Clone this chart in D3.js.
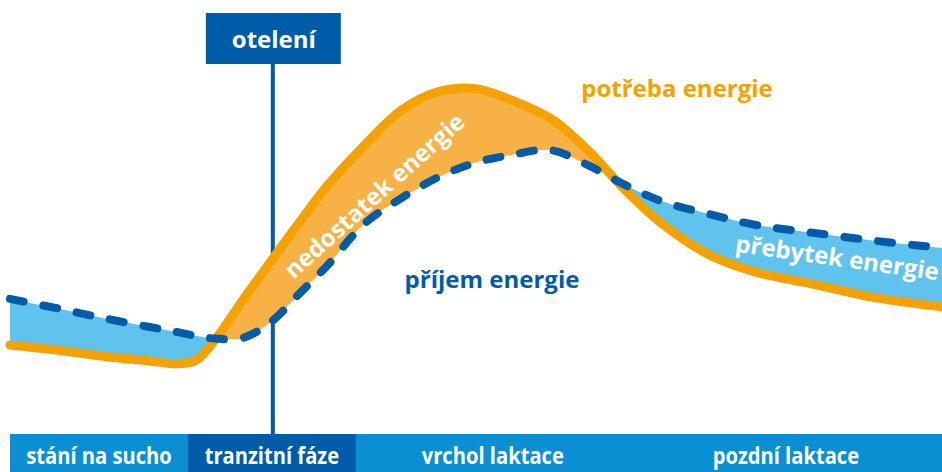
<!DOCTYPE html>
<html><head><meta charset="utf-8">
<script src="https://cdn.jsdelivr.net/npm/d3@7/dist/d3.min.js"></script>
<style>html,body{margin:0;padding:0;background:#fff;overflow:hidden}</style>
</head><body>
<svg id="chart" width="942" height="472"></svg>
<script>
// time within the lactation cycle (% of cycle)
const timePoints   = [0, 5, 10, 15, 18, 20, 22, 25, 28, 31, 34, 38, 42, 46, 50, 54, 58, 62, 66, 70, 75, 80, 86, 93, 100];
// energy demand (potřeba energie), relative units
const demandValues = [17.2, 15.6, 13.7, 12.2, 11.3, 12.5, 18.8, 31.3, 43.4, 55.3, 66.8, 79.5, 90.6, 96.4, 97.3, 93.5, 88.0, 78.1, 65.6, 55.0, 45.4, 40.0, 36.3, 31.9, 29.1];
// energy intake (příjem energie), relative units
const intakeValues = [31.6, 28.7, 25.6, 22.8, 21.2, 20.0, 19.2, 19.4, 24.4, 33.1, 41.9, 55.0, 63.1, 69.7, 74.2, 76.7, 78.1, 73.4, 67.2, 62.0, 58.1, 54.7, 52.3, 49.7, 47.5];
// phases along the bottom band
const phaseNames  = ["stání na sucho", "tranzitní fáze", "vrchol laktace", "pozdní laktace"];
const phaseStarts = [0, 19.1, 37.1, 66.5];
const phaseEnds   = [19.1, 37.1, 66.5, 100];
const calvingTime = 28.2;
const calvingLabel = "otelení";
const labelDemand = "potřeba energie";
const labelIntake = "příjem energie";
const labelDeficit = "nedostatek energie";
const labelSurplus = "přebytek energie";

const W = 942, H = 472;
const svg = d3.select("#chart");
const x = d3.scaleLinear().domain([0, 100]).range([10, 942]);
const y = d3.scaleLinear().domain([0, 100]).range([400, 80]);

const data = timePoints.map((t, i) => ({t, d: demandValues[i], s: intakeValues[i]}));
const curve = d3.curveCatmullRom.alpha(0.5);

const COL_ORANGE = "#f5a100", COL_ORANGE_FILL = "#f8b144", COL_BLUE_FILL = "#5fc3ee",
      COL_DARK = "#005ca9", COL_BAND = "#0a8fd3";

const defs = svg.append("defs");
defs.append("clipPath").attr("id", "aboveDemand").append("path")
  .attr("d", d3.area().x(p => x(p.t)).y0(p => y(p.d)).y1(0).curve(curve)(data));
defs.append("clipPath").attr("id", "belowDemand").append("path")
  .attr("d", d3.area().x(p => x(p.t)).y0(p => y(p.d)).y1(H).curve(curve)(data));

// calving vertical line (behind the fills)
const cx = x(calvingTime);
svg.append("line").attr("x1", cx).attr("x2", cx).attr("y1", 64).attr("y2", 434)
  .attr("stroke", COL_DARK).attr("stroke-width", 4);

// surplus (intake above demand) -> blue
svg.append("path")
  .attr("d", d3.area().x(p => x(p.t)).y0(H).y1(p => y(p.s)).curve(curve)(data))
  .attr("fill", COL_BLUE_FILL).attr("clip-path", "url(#aboveDemand)");
// deficit (demand above intake) -> orange
svg.append("path")
  .attr("d", d3.area().x(p => x(p.t)).y0(0).y1(p => y(p.s)).curve(curve)(data))
  .attr("fill", COL_ORANGE_FILL).attr("clip-path", "url(#belowDemand)");

// demand line
svg.append("path")
  .attr("d", d3.line().x(p => x(p.t)).y(p => y(p.d)).curve(curve)(data))
  .attr("fill", "none").attr("stroke", COL_ORANGE).attr("stroke-width", 9)
  .attr("stroke-linecap", "round").attr("stroke-linejoin", "round");
// intake dashed line
svg.append("path")
  .attr("d", d3.line().x(p => x(p.t)).y(p => y(p.s)).curve(curve)(data))
  .attr("fill", "none").attr("stroke", COL_DARK).attr("stroke-width", 8)
  .attr("stroke-linecap", "round").attr("stroke-dasharray", "14 20");

// calving label box
svg.append("rect").attr("x", cx - 67).attr("y", 13).attr("width", 135).attr("height", 51)
  .attr("fill", COL_DARK);
svg.append("text").attr("x", cx + 1).attr("y", 48).attr("text-anchor", "middle")
  .attr("font-family", "'Open Sans', sans-serif").attr("font-weight", "bold")
  .attr("font-size", 24).attr("fill", "#fff").text(calvingLabel);

// bottom phase band (one base strip, then the highlighted transition phase)
const band = svg.append("g");
band.append("rect").attr("x", x(0)).attr("y", 434)
  .attr("width", x(100) - x(0)).attr("height", 38).attr("fill", COL_BAND);
band.append("rect").attr("x", x(phaseStarts[1])).attr("y", 434)
  .attr("width", x(phaseEnds[1]) - x(phaseStarts[1])).attr("height", 38)
  .attr("fill", COL_DARK);
phaseNames.forEach((name, i) => {
  const mid = (x(phaseStarts[i]) + x(phaseEnds[i])) / 2;
  band.append("text").attr("text-anchor", "middle")
    .attr("transform", `translate(${mid},464) scale(0.84,1)`)
    .attr("font-family", "'Open Sans', sans-serif")
    .attr("font-weight", "bold").attr("font-size", 24).attr("fill", "#fff").text(name);
});

// labels
const lab = (txt, px, py, col, rot) => {
  svg.append("text").attr("text-anchor", "middle")
    .attr("transform", `translate(${px},${py}) rotate(${rot})`)
    .attr("font-family", "'Open Sans', sans-serif").attr("font-weight", "bold")
    .attr("font-size", 24).attr("fill", col).text(txt);
};
lab(labelDemand, 677, 97, COL_ORANGE, 0);
lab(labelIntake, 492, 288, COL_DARK, 0);
lab(labelDeficit, 380, 202, "#fff", -42);
lab(labelSurplus, 836, 266, "#fff", 8);
</script>
</body></html>
